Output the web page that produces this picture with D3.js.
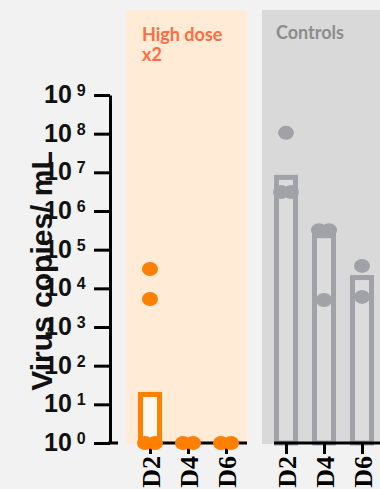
<!DOCTYPE html>
<html>
<head>
<meta charset="utf-8">
<script src="https://cdn.jsdelivr.net/npm/d3@7"></script>
<style>
body { margin: 0; background: #f2f2f2; }
svg { display: block; }
</style>
</head>
<body>
<svg id="chart"></svg>
<script>
// data
const days = ["D2", "D4", "D6"];
const groups = ["High dose", "Controls"];
const groupTitles = [["High dose", "x2"], ["Controls"]];
const highMeans = [18, 1, 1];
const highPoints = [[31600, 5300, 1, 1], [1, 1], [1, 1]];
const ctrlMeans = [7.4e6, 2.3e5, 1.9e4];
const ctrlPoints = [[1.05e8, 3.1e6, 3.1e6], [3.2e5, 3.2e5, 5000], [3.8e4, 6000]];
const yExponents = [0, 1, 2, 3, 4, 5, 6, 7, 8, 9];

const width = 380;
const height = 489;

const styles = {
    "High dose": {bg: "#ffebd6", mark: "#ff8000", title: "#ff6e40", fill: "#fff6ee"},
    "Controls": {bg: "#d9d9d9", mark: "#a1a1a8", title: "#8c8c8c", fill: "#dcdcdc"}
};

let svg = d3.select("#chart")
    .attr("width", width)
    .attr("height", height);

let y = d3.scaleLog()
    .domain([1, 1e9])
    .range([443, 95]);

let panel = d3.scaleBand()
    .domain(groups)
    .range([126, 126 + 121 + 15 + 121])
    .paddingInner(15 / 136);

function dayScale(g) {
    let x0 = panel(g);
    return d3.scalePoint().domain(days).range([x0 + 24, x0 + 100]);
}

// panel backgrounds
svg.append("g")
    .selectAll("rect")
    .data(groups)
    .join("rect")
    .attr("x", d => panel(d))
    .attr("y", 10)
    .attr("width", panel.bandwidth())
    .attr("height", y(1) - 10 + 1)
    .attr("fill", d => styles[d].bg);

// panel titles
groups.forEach((g, gi) => {
    let t = svg.append("text")
        .attr("x", panel(g) + (gi == 0 ? 16 : 14))
        .attr("y", gi == 0 ? 40.5 : 39)
        .attr("font-family", "Lato")
        .attr("font-weight", "bold")
        .attr("font-size", 18)
        .attr("fill", styles[g].title);
    groupTitles[gi].forEach((line, li) => {
        t.append("tspan")
            .attr("x", panel(g) + (gi == 0 ? 16 : 14))
            .attr("dy", li == 0 ? 0 : 20)
            .text(line);
    });
});

// y axis
let yAxis = svg.append("g")
    .attr("transform", "translate(110,0)")
    .call(d3.axisLeft(y)
        .tickValues(yExponents.map(e => Math.pow(10, e)))
        .tickSize(16)
        .tickSizeOuter(0)
        .tickFormat(""));
yAxis.selectAll("path, line")
    .attr("stroke", "#000")
    .attr("stroke-width", 3);
svg.append("line")
    .attr("x1", 108).attr("x2", 118)
    .attr("y1", y(1)).attr("y2", y(1))
    .attr("stroke", "#000").attr("stroke-width", 3);

let yLab = svg.append("g")
    .selectAll("text")
    .data(yExponents)
    .join("text")
    .attr("x", 44)
    .attr("y", d => y(Math.pow(10, d)) + 8)
    .attr("font-family", "Liberation Sans, Arial, sans-serif")
    .attr("font-weight", "bold")
    .attr("fill", "#111");
yLab.append("tspan").attr("font-size", 25).text("10");
yLab.append("tspan")
    .attr("font-size", 16)
    .attr("dx", 5)
    .attr("dy", -7)
    .text(d => d);

// y title
svg.append("text")
    .attr("transform", "translate(52,271) rotate(-90)")
    .attr("text-anchor", "middle")
    .attr("font-family", "Liberation Sans, Arial, sans-serif")
    .attr("font-weight", "bold")
    .attr("font-size", 30)
    .attr("fill", "#111")
    .text("Virus copies/ mL");

// bars, axis, dots per panel
const allMeans = [highMeans, ctrlMeans];
const allPoints = [highPoints, ctrlPoints];

groups.forEach((g, gi) => {
    let x = dayScale(g);
    let st = styles[g];

    svg.append("g")
        .selectAll("rect")
        .data(allMeans[gi].map((v, i) => ({day: days[i], v: v})).filter(d => d.v > 1))
        .join("rect")
        .attr("x", d => x(d.day) - 9.5)
        .attr("width", 19)
        .attr("y", d => y(d.v))
        .attr("height", d => y(1) - y(d.v))
        .attr("fill", st.fill)
        .attr("stroke", st.mark)
        .attr("stroke-width", 5);

    // x axis
    svg.append("line")
        .attr("x1", x(days[0]) - 12)
        .attr("x2", panel(g) + panel.bandwidth())
        .attr("y1", y(1)).attr("y2", y(1))
        .attr("stroke", "#000").attr("stroke-width", 3);

    let xAxis = svg.append("g")
        .attr("transform", `translate(0,${y(1)})`)
        .call(d3.axisBottom(x).tickSize(11).tickSizeOuter(0));
    xAxis.select(".domain").remove();
    xAxis.selectAll("line").attr("stroke", "#000").attr("stroke-width", 3);
    xAxis.selectAll("text")
        .attr("font-family", "Liberation Serif, Times New Roman, serif")
        .attr("font-weight", "bold")
        .attr("font-size", 26)
        .attr("fill", "#000")
        .attr("text-anchor", "end")
        .attr("transform", "rotate(-90)")
        .attr("x", -13)
        .attr("y", 0)
        .attr("dy", "0.35em");

    // dots, spread sideways when they sit on top of each other
    let dots = [];
    allPoints[gi].forEach((pts, di) => {
        let sorted = pts.map(v => ({day: days[di], v: v, py: y(v)}))
            .sort((a, b) => a.py - b.py);
        let clusters = [];
        sorted.forEach(p => {
            let c = clusters[clusters.length - 1];
            if (c && Math.abs(c[c.length - 1].py - p.py) < 8) c.push(p);
            else clusters.push([p]);
        });
        clusters.forEach(c => {
            c.forEach((p, i) => {
                p.off = (i - (c.length - 1) / 2) * 10;
                dots.push(p);
            });
        });
    });

    svg.append("g")
        .selectAll("ellipse")
        .data(dots)
        .join("ellipse")
        .attr("cx", d => x(d.day) + d.off)
        .attr("cy", d => d.py)
        .attr("rx", 8)
        .attr("ry", 7)
        .attr("fill", st.mark);
});
</script>
</body>
</html>
